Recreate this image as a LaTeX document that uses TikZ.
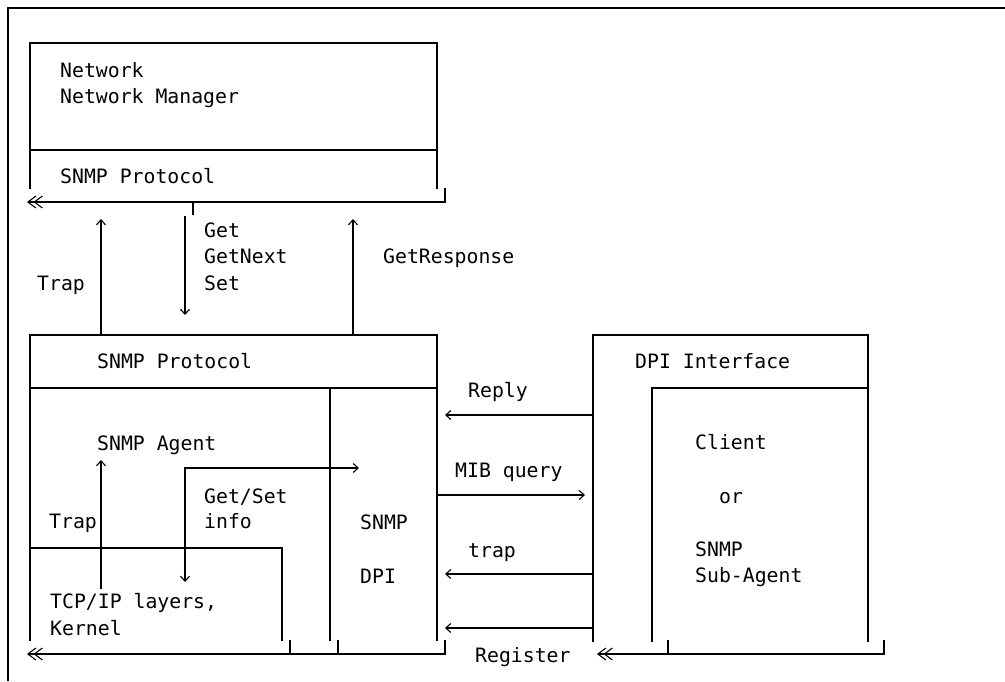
\documentclass[tikz,border=0pt]{standalone}
\usepackage{fontspec}
\newfontfamily\monofont{DejaVu Sans Mono}
\usetikzlibrary{arrows.meta}
\begin{document}
\begin{tikzpicture}[x=1pt,y=-1pt,
  wire/.style={line width=1.3pt,line cap=rect},
  arr/.style={wire,-{Straight Barb[length=5pt,width=9pt,line width=1.1pt]}},
  bus/.style={wire,{Straight Barb[length=8pt,width=12pt,line width=1.1pt]Straight Barb[length=8pt,width=12pt,line width=1.1pt,sep=-3pt]}-},
  lbl/.style={anchor=base west,inner sep=0pt,font=\monofont\fontsize{19.8pt}{26pt}\selectfont}]
\useasboundingbox (0,0) rectangle (1005,681);

% outer frame (top and left edges only)
\draw[line width=2pt] (1005,8) -- (8,8) -- (8,681);

% ---------------- network manager ----------------
\coordinate (nmTL) at (30,43);  \coordinate (nmTR) at (437,43);
\coordinate (nmBL) at (30,188); \coordinate (nmBR) at (437,188);
\draw[wire] (nmBL) -- (nmTL) -- (nmTR) -- (nmBR);
\draw[wire] (30,150) -- (437,150);
\coordinate (nmBusR) at (445,189); \coordinate (nmBusC) at (445,202);
\coordinate (nmBusL) at (27,202);
\draw[bus] (nmBusL) -- (nmBusC) -- (nmBusR);
\coordinate (nmTick) at (193,202);
\draw[wire] (nmTick) -- (193,214);

\node[lbl] (nmA) at (60,77)  {Network};
\node[lbl] (nmB) at (60,103) {Network Manager};
\node[lbl] (nmP) at (60,183) {SNMP Protocol};

% ---------------- messages between manager and agent ----------------
\coordinate (trapLo) at (101,335); \coordinate (trapHi) at (101,219);
\coordinate (getHi) at (185,217);  \coordinate (getLo) at (185,315);
\coordinate (rspLo) at (353,335);  \coordinate (rspHi) at (353,219);
\draw[arr] (trapLo) -- (trapHi);
\draw[arr] (getHi) -- (getLo);
\draw[arr] (rspLo) -- (rspHi);

\node[lbl] (trapU) at (37,290)  {Trap};
\node[lbl] (get)   at (204,237) {Get};
\node[lbl] (getn)  at (204,263) {GetNext};
\node[lbl] (set)   at (204,290) {Set};
\node[lbl] (gresp) at (383,263) {GetResponse};

% ---------------- SNMP agent ----------------
\coordinate (agTL) at (30,335);  \coordinate (agTR) at (437,335);
\coordinate (agBL) at (30,640);  \coordinate (agBR) at (437,640);
\draw[wire] (agBL) -- (agTL) -- (agTR) -- (agBR);
\draw[wire] (30,388) -- (437,388);
\draw[wire] (330,388) -- (330,640);
\draw[wire] (30,548) -- (282,548) -- (282,640);
\coordinate (agBusR) at (445,641); \coordinate (agBusC) at (445,654);
\coordinate (agBusL) at (27,654);
\draw[bus] (agBusL) -- (agBusC) -- (agBusR);
\draw[wire] (290,641) -- (290,654);
\draw[wire] (338,641) -- (338,654);

\coordinate (kTrapLo) at (101,588); \coordinate (kTrapHi) at (101,460);
\draw[arr] (kTrapLo) -- (kTrapHi);
\coordinate (gsLo) at (185,582); \coordinate (gsCorner) at (185,468);
\coordinate (gsR) at (359,468);
\draw[arr,{Straight Barb[length=5pt,width=9pt,line width=1.1pt]}-{Straight Barb[length=5pt,width=9pt,line width=1.1pt]}]
  (gsLo) -- (gsCorner) -- (gsR);

\node[lbl] (agP)   at (97,368)  {SNMP Protocol};
\node[lbl] (agN)   at (97,450)  {SNMP Agent};
\node[lbl] (gs1)   at (204,503) {Get/Set};
\node[lbl] (gs2)   at (204,528) {info};
\node[lbl] (trapL) at (49,528)  {Trap};
\node[lbl] (dpi1)  at (360,529) {SNMP};
\node[lbl] (dpi2)  at (360,583) {DPI};
\node[lbl] (tcp1)  at (50,608)  {TCP/IP layers,};
\node[lbl] (tcp2)  at (50,635)  {Kernel};

% ---------------- DPI interface / sub-agent ----------------
\coordinate (dTL) at (593,335); \coordinate (dTR) at (868,335);
\coordinate (dBL) at (593,641); \coordinate (dBR) at (868,641);
\draw[wire] (dBL) -- (dTL) -- (dTR) -- (dBR);
\draw[wire] (652,641) -- (652,388) -- (868,388);
\coordinate (dBusR) at (884,641); \coordinate (dBusC) at (884,654);
\coordinate (dBusL) at (597,654);
\draw[bus] (dBusL) -- (dBusC) -- (dBusR);
\draw[wire] (668,641) -- (668,654);

\node[lbl] (dpiI) at (635,368) {DPI Interface};
\node[lbl] (cl)   at (695,449) {Client};
\node[lbl] (or)   at (719,503) {or};
\node[lbl] (sa1)  at (695,556) {SNMP};
\node[lbl] (sa2)  at (695,582) {Sub-Agent};

% ---------------- DPI traffic ----------------
\draw[arr] (593,415) -- (445,415);
\draw[arr] (437,495) -- (585,495);
\draw[arr] (593,574) -- (445,574);
\draw[arr] (593,628) -- (445,628);

\node[lbl] (rep)  at (468,397) {Reply};
\node[lbl] (mib)  at (455,477) {MIB query};
\node[lbl] (trp)  at (468,557) {trap};
\node[lbl] (reg)  at (475,662) {Register};
\end{tikzpicture}
\end{document}
